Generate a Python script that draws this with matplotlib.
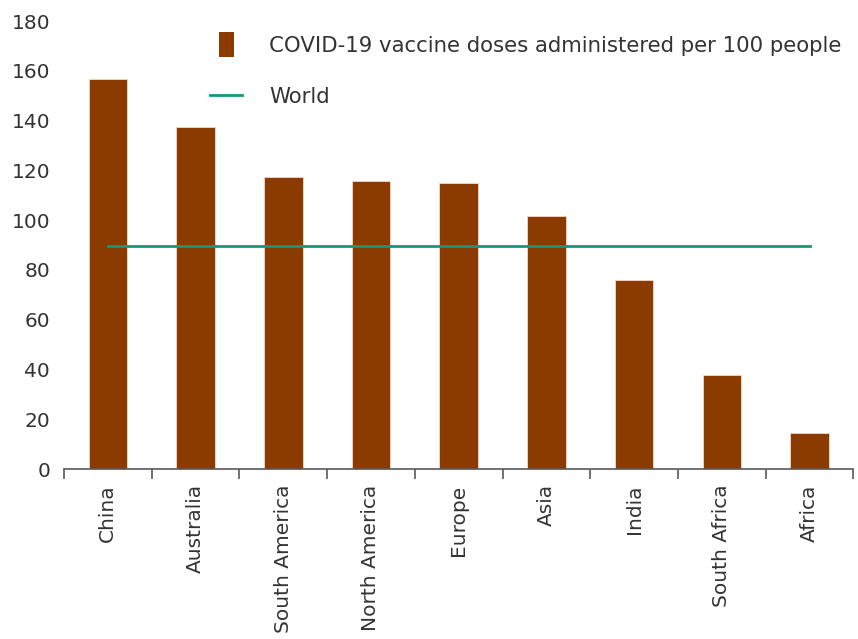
import matplotlib
matplotlib.use("Agg")
import matplotlib.pyplot as plt
from matplotlib.patches import Rectangle
from matplotlib.legend_handler import HandlerPatch
import numpy as np

regions = ["China", "Australia", "South America", "North America", "Europe",
           "Asia", "India", "South Africa", "Africa"]
doses_per_100 = [156.7, 137.4, 117.4, 115.8, 114.8, 101.7, 76.0, 37.8, 14.5]
world = [89.6] * 9

BAR_COLOR = "#8b3b00"
LINE_COLOR = "#16977a"
TEXT_COLOR = "#333333"

plt.rcParams["font.family"] = ["DejaVu Sans"]
plt.rcParams["font.size"] = 14.5
plt.rcParams["text.color"] = TEXT_COLOR


def tall_patch(legend, orig_handle, xdescent, ydescent, width, height, fontsize):
    w = fontsize * 0.71
    h = fontsize * 1.18
    return Rectangle((width / 2 - w / 2 - xdescent, height / 2 - h / 2 - ydescent), w, h)


fig = plt.figure(figsize=(8.58, 6.39), dpi=100)
ax = fig.add_axes([0.0746, 0.266, 0.92, 0.701])

x = np.arange(len(regions))
ax.bar(x, doses_per_100, width=0.44, color=BAR_COLOR, edgecolor="#f3d9c8",
       linewidth=0.6, zorder=2)
line, = ax.plot(x, world, color=LINE_COLOR, linewidth=2, label="World", zorder=3)

ax.set_xlim(-0.5, len(regions) - 0.5)
ax.set_ylim(0, 180)
ax.set_yticks(np.arange(0, 181, 20))

for s in ["top", "right", "left"]:
    ax.spines[s].set_visible(False)
ax.spines["bottom"].set_color("#595959")
ax.spines["bottom"].set_linewidth(1.2)

ax.set_xticks(x)
ax.set_xticklabels(regions, rotation=90, color=TEXT_COLOR)
ax.tick_params(axis="x", which="major", length=0, pad=11)
ax.set_xticks(np.arange(-0.5, len(regions), 1), minor=True)
ax.tick_params(axis="x", which="minor", length=7, width=1.2, color="#595959")
ax.tick_params(axis="y", length=0, pad=10, labelcolor=TEXT_COLOR)

bar_handle = Rectangle((0, 0), 1, 1, facecolor=BAR_COLOR, edgecolor="none",
                       label="COVID-19 vaccine doses administered per 100 people")
ax.legend(handles=[bar_handle, line], loc="upper left", bbox_to_anchor=(0.223, 0.974),
          bbox_transform=fig.transFigure, frameon=False, fontsize=15.3,
          labelspacing=1.45, handlelength=1.5, handletextpad=1.25,
          handler_map={Rectangle: HandlerPatch(patch_func=tall_patch)})

fig.savefig("out.png", dpi=100)
